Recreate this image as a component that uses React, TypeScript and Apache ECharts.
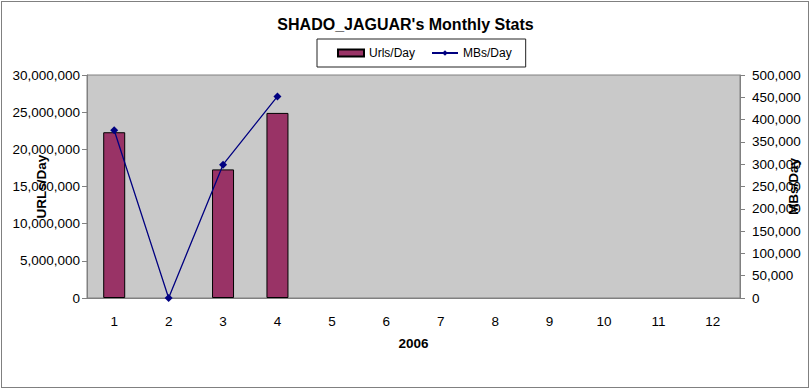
import React, { useEffect, useRef } from "react";
import * as echarts from "echarts";

const months = ["1", "2", "3", "4", "5", "6", "7", "8", "9", "10", "11", "12"];
const urlsPerDay: (number | null)[] = [22300000, null, 17300000, 24900000, null, null, null, null, null, null, null, null];
const mbsPerDay: (number | null)[] = [376000, 0, 299000, 452000, null, null, null, null, null, null, null, null];
const leftTicks = { min: 0, max: 30000000, interval: 5000000 };
const rightTicks = { min: 0, max: 500000, interval: 50000 };

const fmt = (v: number) => v.toLocaleString("en-US");

export default function App() {
  const ref = useRef<HTMLDivElement>(null);
  useEffect(() => {
    const chart = echarts.init(ref.current!, null, { renderer: "svg" });
    const font = "Arial, 'Liberation Sans', sans-serif";
    const labelSize = 13.5;
    chart.setOption({
      animation: false,
      backgroundColor: "#ffffff",
      textStyle: { fontFamily: font },
      title: {
        text: "SHADO_JAGUAR's Monthly Stats",
        left: "center",
        top: 11,
        textStyle: { fontFamily: font, fontSize: 16, fontWeight: "bold", color: "#000" },
      },
      legend: {
        left: 317,
        top: 39,
        borderColor: "#222",
        borderWidth: 1,
        padding: [8, 14, 8, 20],
        itemGap: 16,
        itemWidth: 26,
        itemHeight: 7,
        textStyle: { fontFamily: font, fontSize: 12, color: "#000" },
        data: [
          { name: "Urls/Day", icon: "rect" },
          { name: "MBs/Day" },
        ],
      },
      graphic: [
        {
          type: "rect",
          shape: { x: 1.5, y: 1.5, width: 807, height: 386 },
          style: { fill: "none", stroke: "#000", lineWidth: 1, lineDash: [1, 1] },
          silent: true,
        },
      ],
      grid: {
        left: 87,
        right: 71,
        top: 75,
        bottom: 92,
        outerBoundsMode: "none",
        containLabel: false,
        show: true,
        backgroundColor: "#c9c9c9",
        borderColor: "#808080",
        borderWidth: 1,
      },
      xAxis: {
        type: "category",
        data: months,
        name: "2006",
        nameLocation: "middle",
        nameGap: 38,
        nameMoveOverlap: false,
        nameTextStyle: { fontFamily: font, fontSize: 13.5, fontWeight: "bold", color: "#000" },
        axisLine: { lineStyle: { color: "#808080" } },
        axisTick: { lineStyle: { color: "#808080" }, length: 5 },
        axisLabel: { color: "#000", fontSize: labelSize, margin: 16, fontFamily: font },
      },
      yAxis: [
        {
          type: "value",
          ...leftTicks,
          name: "URLs/Day",
          nameLocation: "middle",
          nameRotate: 90,
          nameGap: 39,
          nameMoveOverlap: false,
          nameTextStyle: { fontFamily: font, fontSize: 13.5, fontWeight: "bold", color: "#000" },
          axisLine: { show: true, lineStyle: { color: "#808080" } },
          axisTick: { show: true, lineStyle: { color: "#808080" }, length: 5 },
          splitLine: { show: false },
          axisLabel: { color: "#000", fontSize: labelSize, margin: 7, fontFamily: font, formatter: fmt },
        },
        {
          type: "value",
          ...rightTicks,
          name: "MBs/Day",
          nameLocation: "middle",
          nameRotate: 90,
          nameGap: 46,
          nameMoveOverlap: false,
          nameTextStyle: { fontFamily: font, fontSize: 13.5, fontWeight: "bold", color: "#000" },
          axisLine: { show: true, lineStyle: { color: "#808080" } },
          axisTick: { show: true, lineStyle: { color: "#808080" }, length: 5 },
          splitLine: { show: false },
          axisLabel: { color: "#000", fontSize: labelSize, margin: 12, fontFamily: font, formatter: fmt },
        },
      ],
      series: [
        {
          name: "Urls/Day",
          type: "bar",
          data: urlsPerDay,
          yAxisIndex: 0,
          barWidth: 22,
          itemStyle: { color: "#993366", borderColor: "#000", borderWidth: 1 },
        },
        {
          name: "MBs/Day",
          type: "line",
          data: mbsPerDay,
          yAxisIndex: 1,
          symbol: "diamond",
          symbolSize: 8,
          lineStyle: { color: "#000080", width: 1.3 },
          itemStyle: { color: "#000080" },
        },
      ],
    });
    return () => chart.dispose();
  }, []);
  return (
    <div
      ref={ref}
      style={{ position: "fixed", left: 0, top: 0, width: 811, height: 390 }}
    />
  );
}
